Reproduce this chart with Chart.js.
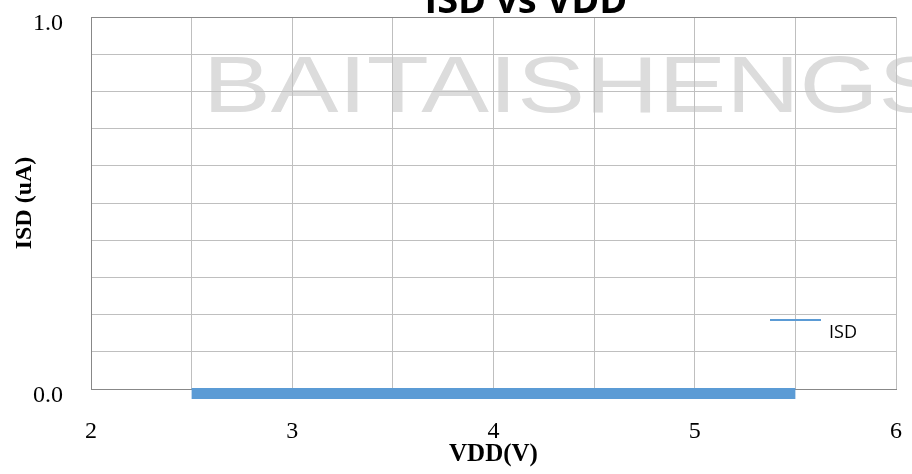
<!DOCTYPE html>
<html>
<head>
<meta charset="utf-8">
<script src="https://cdn.jsdelivr.net/npm/chart.js@4"></script>
<style>
  body { margin: 0; background: #fff; }
</style>
</head>
<body>
<canvas id="chart" width="912" height="474"></canvas>
<script>
// data
const vdd = [2.5, 3, 3.5, 4, 4.5, 5, 5.5];
const isd = [-0.012, -0.012, -0.012, -0.012, -0.012, -0.012, -0.012];
const xTicks = [2, 3, 4, 5, 6];
const yTicks = [0, 1];

const blue = '#5b9bd5';

// watermark behind the grid
const watermark = {
    id: 'watermark',
    beforeDraw(chart) {
        const ctx = chart.ctx;
        ctx.save();
        ctx.fillStyle = '#dcdcdc';
        ctx.font = '80px "Liberation Sans"';
        ctx.textBaseline = 'alphabetic';
        ctx.translate(203, 112);
        ctx.scale(1.27, 1);
        ctx.fillText('BAITAISHENGS', 0, 0);
        ctx.restore();
    }
};

// title (cut at the top) and the legend
const extras = {
    id: 'extras',
    afterDraw(chart) {
        const ctx = chart.ctx;
        ctx.save();
        ctx.fillStyle = '#000';
        ctx.font = 'bold 38px "Open Sans"';
        ctx.textAlign = 'center';
        ctx.textBaseline = 'alphabetic';
        ctx.fillText('ISD vs VDD', 526, 13);

        // legend
        ctx.strokeStyle = chart.data.datasets[0].borderColor;
        ctx.lineWidth = 2;
        ctx.beginPath();
        ctx.moveTo(770, 320);
        ctx.lineTo(821, 320);
        ctx.stroke();
        ctx.font = '18px "Open Sans"';
        ctx.textAlign = 'left';
        ctx.textBaseline = 'middle';
        ctx.fillText(chart.data.datasets[0].label, 829, 333);
        ctx.restore();
    }
};

const ctx = document.getElementById('chart');

const chart = new Chart(ctx, {
    type: 'line',
    data: {
        datasets: [{
            label: 'ISD',
            data: vdd.map((v, i) => ({ x: v, y: isd[i] })),
            borderColor: blue,
            backgroundColor: blue,
            borderWidth: 11,
            borderCapStyle: 'butt',
            pointRadius: 0,
            tension: 0,
            clip: false
        }]
    },
    options: {
        responsive: false,
        animation: false,
        layout: { padding: { top: 17, right: 16, bottom: 0, left: 0 } },
        plugins: {
            legend: { display: false },
            title: { display: false },
            tooltip: { enabled: false }
        },
        scales: {
            x: {
                type: 'linear',
                min: 2,
                max: 6,
                afterFit(scale) {
                    scale.height = 85;
                    scale.paddingLeft = 0;
                    scale.paddingRight = 0;
                },
                ticks: {
                    stepSize: 0.5,
                    padding: 28,
                    color: '#000',
                    font: { family: '"Liberation Serif"', size: 24 },
                    maxRotation: 0,
                    callback: (v) => xTicks.includes(v) ? String(v) : ''
                },
                grid: {
                    color: '#bfbfbf',
                    drawTicks: false,
                    lineWidth: 1
                },
                border: { color: '#888888', width: 1 },
                title: {
                    display: true,
                    text: 'VDD(V)',
                    color: '#000',
                    font: { family: '"Liberation Serif"', size: 25, weight: 'bold' },
                    padding: { top: 0, bottom: 4 }
                }
            },
            y: {
                min: 0,
                max: 1,
                afterFit(scale) {
                    scale.width = 91;
                    scale.paddingTop = 0;
                    scale.paddingBottom = 0;
                },
                ticks: {
                    stepSize: 0.1,
                    padding: 28,
                    labelOffset: 7,
                    color: '#000',
                    font: { family: '"Liberation Serif"', size: 24 },
                    callback: (v) => yTicks.includes(v) ? v.toFixed(1) : ''
                },
                grid: {
                    color: (c) => c.tick && c.tick.value === 1 ? '#888888' : '#bfbfbf',
                    drawTicks: false,
                    lineWidth: 1
                },
                border: { color: '#888888', width: 1 },
                title: {
                    display: true,
                    text: 'ISD (uA)',
                    color: '#000',
                    font: { family: '"Liberation Serif"', size: 24, weight: 'bold' },
                    padding: { top: 10, bottom: 0 }
                }
            }
        }
    },
    plugins: [watermark, extras]
});
</script>
</body>
</html>
